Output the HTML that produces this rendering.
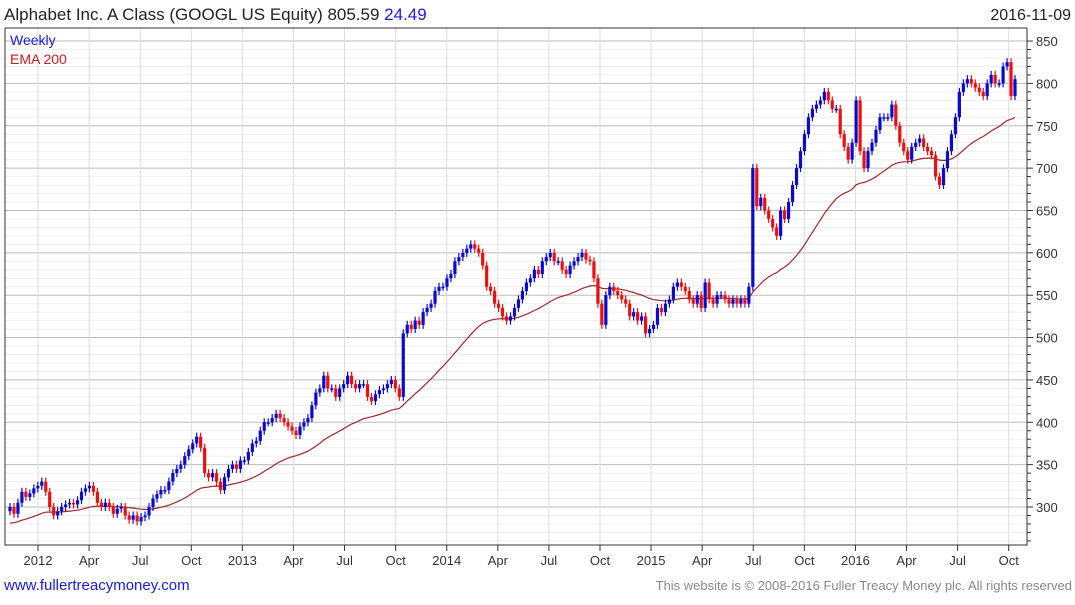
<!DOCTYPE html>
<html><head><meta charset="utf-8"><style>
body{margin:0;background:#fff;width:1075px;height:600px;overflow:hidden;font-family:"Liberation Sans",sans-serif}
</style></head><body>
<svg id="chart" width="1075" height="600" xmlns="http://www.w3.org/2000/svg" font-family="Liberation Sans, sans-serif">
<text x="4" y="20" font-size="17" fill="#222">Alphabet Inc. A Class (GOOGL US Equity) 805.59 <tspan fill="#1a1adc">24.49</tspan></text>
<text x="1071" y="20" font-size="16" fill="#222" text-anchor="end">2016-11-09</text>
<g id="grid"></g>
<g id="ema"></g>
<g id="candles"></g>
<rect x="5" y="28" width="1022" height="517" fill="none" stroke="#333" stroke-width="1"/>
<text x="10" y="45" font-size="14" fill="#1a1adc">Weekly</text>
<text x="10" y="64" font-size="14" fill="#c02020">EMA 200</text>
<g id="axes"></g>
<text x="4" y="590" font-size="15" fill="#1a1adc">www.fullertreacymoney.com</text>
<text x="1072" y="590" font-size="13" fill="#888" text-anchor="end">This website is © 2008-2016 Fuller Treacy Money plc. All rights reserved</text>
</svg>
<script>
const closes=[300,292,305,318,312,316,322,325,
330,318,300,290,295,300,303,305,303,308,318,322,325,318,305,300,305,300,292,298,300,290,285,290,283,288,290,300,310,315,320,320,330,340,345,350,360,368,375,383,370,340,335,340,330,320,335,345,350,345,355,
355,365,375,378,390,400,400,405,410,405,400,395,390,385,395,400,405,420,435,440,455,440,440,430,440,445,455,445,440,445,445,430,425,433,438,440,445,450,440,430,505,515,510,520,515,530,535,540,555,560,560,
570,575,590,595,600,605,610,605,600,585,560,555,540,535,525,520,525,535,545,555,565,570,580,575,590,595,600,590,590,580,575,585,590,595,600,592,590,570,540,515,550,560,555,550,545,540,525,530,520,525,
505,510,515,535,530,540,545,560,565,560,555,545,540,550,535,565,545,540,550,550,545,540,545,540,545,540,560,700,655,665,650,640,630,620,650,640,660,680,700,720,740,760,770,775,780,790,780,770,770,
740,725,710,730,780,720,700,720,730,745,760,760,760,775,750,730,720,710,725,730,735,725,720,715,690,680,700,720,740,760,790,800,805,800,795,790,785,800,810,800,800,820,825,785,805];
const yTicks=[300,350,400,450,500,550,600,650,700,750,800,850];
const xLabels=["2012","Apr","Jul","Oct","2013","Apr","Jul","Oct","2014","Apr","Jul","Oct","2015","Apr","Jul","Oct","2016","Apr","Jul","Oct"];
const xLabelWeeks=[7,20,33,46,59,72,85,98,111,124,137,150,163,176,189,202,215,228,241,254];
const emaSeed=280;
const NS="http://www.w3.org/2000/svg";
const N=closes.length;
function xOf(i){return 10+i*(1015-10)/(N-1);}
function xLab(w){return 38+(w-7)*3.93;}
function yOf(v){return 507-(v-300)*42.36/50;}
function mk(tag,attrs,parent){const e=document.createElementNS(NS,tag);for(const k in attrs)e.setAttribute(k,attrs[k]);parent.appendChild(e);return e;}
const grid=document.getElementById('grid'),axes=document.getElementById('axes');
for(let v=260;v<=850;v+=10){
  const y=yOf(v);if(y<28||y>545)continue;
  const major=v%50===0;
  const l=mk('line',{x1:5,x2:1027,y1:y,y2:y,stroke:major?'#bbb':'#efefef','stroke-width':1},grid);
  
  
  const t=mk('line',{x1:1027,x2:major?1033:1031,y1:y,y2:y,stroke:'#333'},axes);
  
  
}
yTicks.forEach(v=>{
  const t=mk('text',{x:1036,y:yOf(v)+5,'font-size':13,fill:'#333'},axes);t.textContent=v;
  
  
});
xLabels.forEach((s,k)=>{
  const x=xLab(xLabelWeeks[k]);
  const g=mk('line',{x1:x,x2:x,y1:28,y2:545,stroke:'#ddd'},grid);
  
  
  const tk=mk('line',{x1:x,x2:x,y1:545,y2:551,stroke:'#333'},axes);
  
  
  const t=mk('text',{x:x,y:565,'font-size':13,fill:'#333','text-anchor':'middle'},axes);t.textContent=s;
  
  
});
let e=emaSeed,pts=[];const a=2/41;
closes.forEach((c,i)=>{e=e+a*(c-e);pts.push(xOf(i).toFixed(1)+','+yOf(e).toFixed(1));});
const pl=mk('polyline',{points:pts.join(' '),fill:'none',stroke:'#a02828','stroke-width':1.2},document.getElementById('ema'));


const cg=document.getElementById('candles');
closes.forEach((c,i)=>{
  const o=i>0?closes[i-1]:c-5;
  const x=xOf(i),col=c>=o?'#0a0acc':'#e81010';
  const y1=yOf(Math.max(o,c)),y2=yOf(Math.min(o,c));
  const w=mk('line',{x1:x,x2:x,y1:y1-4,y2:y2+4,stroke:col,'stroke-width':1.2},cg);
  
  
  const b=mk('rect',{x:x-1.6,y:y1,width:3.2,height:Math.max(1.5,y2-y1),fill:col},cg);
  
  
});
</script>
</body></html>
